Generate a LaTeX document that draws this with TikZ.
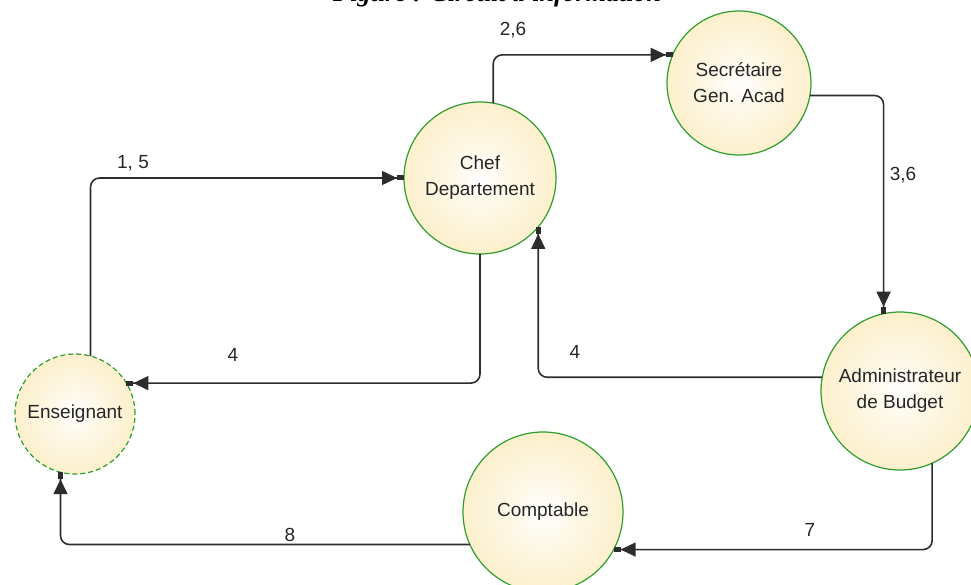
\documentclass[tikz,border=0pt]{standalone}
\usepackage{fontspec}
\setmainfont{Liberation Sans}
\newfontfamily\capfont{Liberation Serif}
\usetikzlibrary{arrows.meta}
\definecolor{yel}{RGB}{250,226,160}
\definecolor{grn}{RGB}{46,158,46}
\definecolor{ln}{RGB}{45,45,45}
\pgfdeclareradialshading{ballshade}{\pgfpoint{0bp}{0bp}}{color(0bp)=(white); color(10bp)=(white!75!yel); color(50bp)=(yel)}
\tikzset{
  proc/.style={circle, draw=grn, line width=1.2pt, shading=ballshade, inner sep=0pt, outer sep=0pt,
    align=center, text=black!85, font=\fontsize{19}{26}\selectfont},
  flow/.style={draw=ln, line width=1.6pt, rounded corners=9pt,
    -{Triangle[length=15pt,width=14pt] Rectangle[length=7pt,width=5pt]}},
  lbl/.style={text=black!85, font=\fontsize{19}{22}\selectfont, inner sep=0pt}
}
\begin{document}
\begin{tikzpicture}[x=1pt,y=-1pt]
\useasboundingbox (0,0) rectangle (971,585);
\node[font=\capfont\bfseries\itshape\fontsize{26}{30}\selectfont, anchor=base, text=black, inner sep=0pt] (cap) at (497,2) {Figure : Circuit d'information};
\node[proc, minimum size=120pt, dashed, dash pattern=on 5pt off 3pt] (ens) at (75,414) {Enseignant};
\node[proc, minimum size=152pt] (chef) at (480,178) {Chef\\Departement};
\node[proc, minimum size=144pt] (sec) at (739,83) {Secrétaire\\Gen. Acad};
\node[proc, minimum size=158pt] (adm) at (900,391) {Administrateur\\de Budget};
\node[proc, minimum size=160pt] (comp) at (543,512) {Comptable};
\draw[flow] (ens.75.5) |- (chef.180);
\draw[flow] (chef.80) |- (sec.157);
\draw[flow] (sec.-10) -| (adm.102);
\draw[flow] (chef.south) |- (ens.31);
\draw[flow] (adm.170) -| (chef.-40);
\draw[flow] (adm.-66) |- (comp.-28);
\draw[flow] (comp.204) -| (ens.-104.5);
\node[lbl] (l15) at (133,163) {1, 5};
\node[lbl] (l26) at (513,30) {2,6};
\node[lbl] (l36) at (903,175) {3,6};
\node[lbl] (l4a) at (233,355) {4};
\node[lbl] (l4b) at (575,352) {4};
\node[lbl] (l7) at (810,530) {7};
\node[lbl] (l8) at (290,535) {8};
\end{tikzpicture}
\end{document}
